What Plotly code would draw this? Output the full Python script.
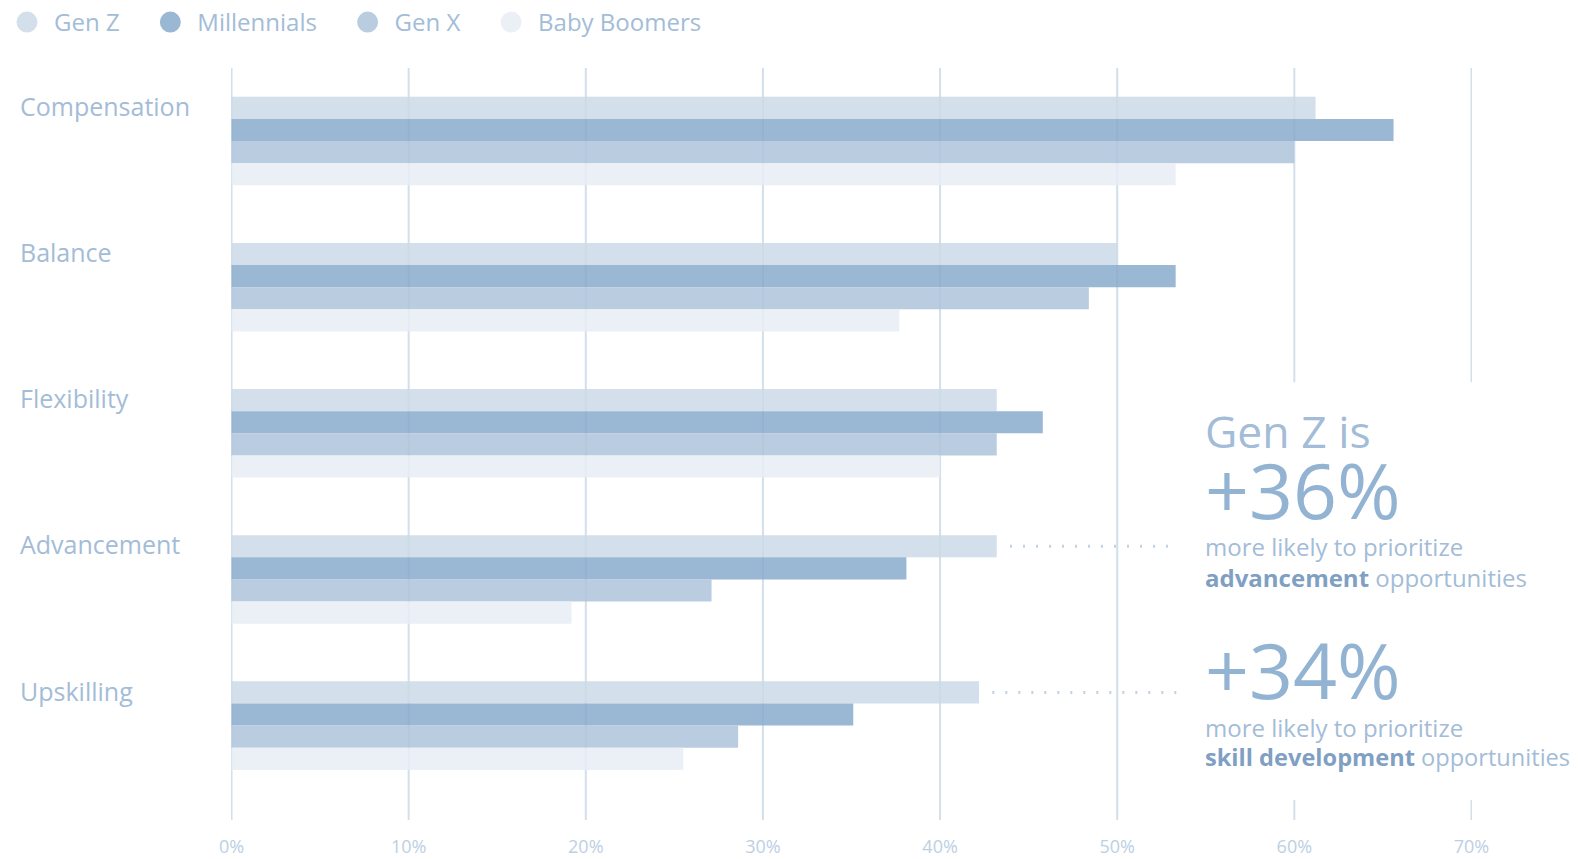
import plotly.graph_objects as go

categories = ["Compensation", "Balance", "Flexibility", "Advancement", "Upskilling"]
series_names = ["Gen Z", "Millennials", "Gen X", "Baby Boomers"]
gen_z = [61.2, 50.0, 43.2, 43.2, 42.2]
millennials = [65.6, 53.3, 45.8, 38.1, 35.1]
gen_x = [60.0, 48.4, 43.2, 27.1, 28.6]
boomers = [53.3, 37.7, 40.0, 19.2, 25.5]
tick_values = [0, 10, 20, 30, 40, 50, 60, 70]
tick_labels = ["0%", "10%", "20%", "30%", "40%", "50%", "60%", "70%"]

series_values = [gen_z, millennials, gen_x, boomers]
legend_colors = ["#d3dfea", "#9ab7d3", "#bacde0", "#ebf0f7"]
bar_colors = ["#cbd9e6", "#88aacb", "#aec4db", "#e8edf6"]

TEXT = "#a3bcd7"
BOLD = "#7f9fc3"
GRID = "#d3dfeb"
FONT = "Open Sans"
BARGAP = 0.394
NB = "\u00a0" * 3

fig = go.Figure()
for name, vals, col in zip(series_names, series_values, bar_colors):
    fig.add_trace(go.Bar(y=categories, x=vals, orientation="h", name=name,
                         marker=dict(color=col, opacity=0.85, line=dict(width=0)),
                         showlegend=False))
for name, col in zip(series_names, legend_colors):
    fig.add_trace(go.Scatter(x=[None], y=[None], mode="markers", name=name + NB,
                             marker=dict(size=16, color=col, line=dict(width=5, color=col))))

fig.update_layout(
    width=1578, height=859,
    margin=dict(l=231, r=106, t=68, b=39, autoexpand=False),
    paper_bgcolor="white", plot_bgcolor="white",
    barmode="group", bargap=BARGAP, bargroupgap=0,
    font=dict(family=FONT, color=TEXT),
    legend=dict(orientation="h", xref="container", yref="container", x=-0.0006, y=1.0,
                xanchor="left", yanchor="top", font=dict(size=24, color=TEXT),
                itemwidth=44, itemclick=False, bgcolor="rgba(0,0,0,0)"),
    showlegend=True,
)
fig.update_xaxes(range=[-0.03, 70.03], tickvals=tick_values, ticktext=tick_labels,
                 showgrid=False, zeroline=False, showline=False, ticks="",
                 tickfont=dict(size=18, color="#bcd0e3", family=FONT),
                 ticklabelstandoff=14, automargin=False)
fig.update_yaxes(categoryorder="array", categoryarray=categories,
                 range=[4.646, -0.5], showticklabels=False, showgrid=False,
                 zeroline=False, showline=False, ticks="", automargin=False)

# vertical gridlines; the 60% and 70% lines break around the callouts
GAP_BOTTOM, GAP_TOP = 0.0266, 0.582
for v in tick_values:
    segments = [(0, 1)] if v <= 50 else [(0, GAP_BOTTOM), (GAP_TOP, 1)]
    for y0, y1 in segments:
        fig.add_shape(type="line", xref="x", yref="paper", x0=v, x1=v, y0=y0, y1=y1,
                      line=dict(color=GRID, width=2), layer="below")

# category labels aligned with the Gen Z bar
w = (1 - BARGAP) / 4
for cat in categories:
    fig.add_annotation(x=-0.1715, xref="paper", y=cat, yref="y", yshift=35,
                       text=cat, showarrow=False, xanchor="left", yanchor="middle",
                       font=dict(size=25, color=TEXT, family=FONT))

# dotted leaders
leader_ends = {"Advancement": 53.0, "Upskilling": 53.4}
for cat, end in leader_ends.items():
    i = categories.index(cat)
    yv = i - 1.5 * w
    fig.add_shape(type="line", xref="x", yref="y", x0=gen_z[i] + 0.75, x1=end,
                  y0=yv, y1=yv, line=dict(color="#c3d2e3", width=3, dash="2px,11px"))

def ypx(px):
    return (820 - px) / 752

callouts = [
    ("Gen Z is", 430, 44.5, TEXT),
    ("+36%", 489, 77, "#93b3d3"),
    ("more likely to prioritize", 546, 24, TEXT),
    (f"<b><span style='color:{BOLD}'>advancement</span></b> opportunities", 577, 24, TEXT),
    ("+34%", 669, 77, "#93b3d3"),
    ("more likely to prioritize", 727, 24, TEXT),
    (f"<b><span style='color:{BOLD}'>skill development</span></b> opportunities", 757, 23.6, TEXT),
]
for txt, py, size, col in callouts:
    fig.add_annotation(x=54.85, xref="x", y=ypx(py), yref="paper", text=txt,
                       showarrow=False, xanchor="left", yanchor="middle",
                       font=dict(size=size, color=col, family=FONT))

fig.write_html("out.html", config={"displayModeBar": False},
               post_script="document.body.style.margin='0';")
